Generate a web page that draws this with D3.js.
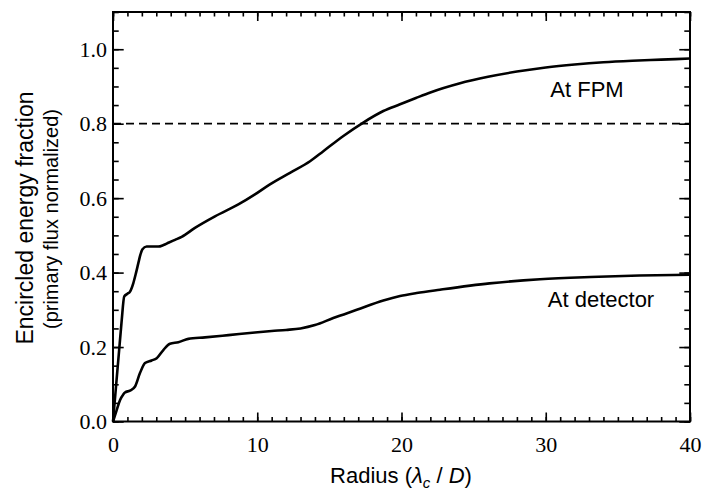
<!DOCTYPE html>
<html>
<head>
<meta charset="utf-8">
<script src="https://cdn.jsdelivr.net/npm/d3@7"></script>
<style>
body { margin: 0; background: #fff; }
.tick text { font-family: "Liberation Serif", serif; font-size: 22px; fill: #000; }
.tick line { stroke: #000; stroke-width: 1.6; }
.lbl { font-family: "Liberation Sans", Arial, sans-serif; fill: #000; }
</style>
</head>
<body>
<svg width="704" height="494"></svg>
<script>
// radius in lambda_c / D
let fpmRadius = [0, 0.2, 0.4, 0.6, 0.78, 1.0, 1.18, 1.41, 1.6, 1.76, 1.9, 2.03, 2.33, 2.7, 3.14, 3.5, 3.84, 4.3, 4.76, 5.68, 7.07, 8.69, 9.84, 10.88, 12.27, 13.66, 14.58, 15.97, 17.35, 18.74, 19.9, 21, 22, 24, 26, 28, 30, 32, 34, 36, 38, 40];
let fpmEnergy = [0, 0.09, 0.18, 0.27, 0.336, 0.343, 0.349, 0.372, 0.40, 0.426, 0.448, 0.462, 0.47, 0.47, 0.47, 0.474, 0.48, 0.488, 0.496, 0.52, 0.551, 0.583, 0.61, 0.637, 0.668, 0.699, 0.726, 0.767, 0.803, 0.834, 0.852, 0.869, 0.884, 0.908, 0.926, 0.94, 0.951, 0.959, 0.965, 0.969, 0.972, 0.975];

let detRadius = [0, 0.25, 0.49, 0.7, 0.83, 1.18, 1.53, 1.87, 2.22, 2.68, 3.03, 3.49, 3.95, 4.53, 5.22, 6.38, 8, 9.84, 11, 12, 13, 14, 15.27, 16.9, 18.74, 19.9, 21.05, 22.67, 26.1, 29.6, 33.1, 36.5, 40];
let detEnergy = [0, 0.03, 0.058, 0.072, 0.078, 0.083, 0.094, 0.13, 0.157, 0.164, 0.17, 0.192, 0.209, 0.213, 0.222, 0.226, 0.232, 0.239, 0.243, 0.246, 0.25, 0.259, 0.278, 0.300, 0.325, 0.337, 0.345, 0.354, 0.371, 0.382, 0.388, 0.392, 0.394];

let xMajor = [0, 10, 20, 30, 40];
let yMajor = [0, 0.2, 0.4, 0.6, 0.8, 1.0];
let threshold = 0.8;

let svg = d3.select('svg');
let mLeft = 113, mRight = 690, mTop = 12, mBottom = 421.5;

let x = d3.scaleLinear().domain([0, 40]).range([mLeft, mRight]);
let y = d3.scaleLinear().domain([0, 1.1]).range([mBottom, mTop]);

let xMinor = d3.range(0, 41, 1);
let yMinor = d3.range(0, 1.1001, 0.05).map(d => +d.toFixed(2));

function drawAxis(axis, transform) {
	let g = svg.append('g').attr('transform', transform).call(axis);
	g.select('.domain').remove();
	return g;
}

// bottom
drawAxis(d3.axisBottom(x).tickValues(xMajor).tickSize(-9).tickPadding(15).tickFormat(d3.format('d')), `translate(0,${mBottom})`);
drawAxis(d3.axisBottom(x).tickValues(xMinor).tickSize(-4.5).tickFormat(''), `translate(0,${mBottom})`);
// top
drawAxis(d3.axisTop(x).tickValues(xMajor).tickSize(-9).tickFormat(''), `translate(0,${mTop})`);
drawAxis(d3.axisTop(x).tickValues(xMinor).tickSize(-4.5).tickFormat(''), `translate(0,${mTop})`);
// left
drawAxis(d3.axisLeft(y).tickValues(yMajor).tickSize(-10.7).tickPadding(6).tickFormat(d3.format('.1f')), `translate(${mLeft},0)`);
drawAxis(d3.axisLeft(y).tickValues(yMinor).tickSize(-5.7).tickFormat(''), `translate(${mLeft},0)`);
// right
drawAxis(d3.axisRight(y).tickValues(yMajor).tickSize(-10.7).tickFormat(''), `translate(${mRight},0)`);
drawAxis(d3.axisRight(y).tickValues(yMinor).tickSize(-5.7).tickFormat(''), `translate(${mRight},0)`);

// frame
svg.append('rect')
	.attr('x', mLeft).attr('y', mTop)
	.attr('width', mRight - mLeft).attr('height', mBottom - mTop)
	.attr('fill', 'none').attr('stroke', '#000').attr('stroke-width', 2);

// 80% line
svg.append('line')
	.attr('x1', x(0)).attr('x2', x(40))
	.attr('y1', y(threshold)).attr('y2', y(threshold))
	.attr('stroke', '#000').attr('stroke-width', 1.8)
	.attr('stroke-dasharray', '8,5');

let line = d3.line().x(d => x(d[0])).y(d => y(d[1])).curve(d3.curveMonotoneX);

svg.append('path')
	.attr('d', line(d3.zip(fpmRadius, fpmEnergy)))
	.attr('fill', 'none').attr('stroke', '#000').attr('stroke-width', 2.6);

svg.append('path')
	.attr('d', line(d3.zip(detRadius, detEnergy)))
	.attr('fill', 'none').attr('stroke', '#000').attr('stroke-width', 2.6);

// curve labels
svg.append('text').attr('class', 'lbl')
	.attr('x', 587).attr('y', 97).attr('text-anchor', 'middle')
	.style('font-size', '22px').text('At FPM');
svg.append('text').attr('class', 'lbl')
	.attr('x', 601).attr('y', 307).attr('text-anchor', 'middle')
	.style('font-size', '22px').text('At detector');

// x axis title
let xt = svg.append('text').attr('class', 'lbl')
	.attr('x', 401).attr('y', 483).attr('text-anchor', 'middle')
	.style('font-size', '22px');
xt.append('tspan').text('Radius (');
xt.append('tspan').style('font-style', 'italic').text('λ');
xt.append('tspan').style('font-style', 'italic').style('font-size', '15px').attr('dy', 5).text('c');
xt.append('tspan').attr('dy', -5).text(' / ');
xt.append('tspan').style('font-style', 'italic').text('D');
xt.append('tspan').text(')');

// y axis title
svg.append('text').attr('class', 'lbl')
	.attr('transform', 'translate(33,218) rotate(-90)')
	.attr('text-anchor', 'middle')
	.style('font-size', '23px').text('Encircled energy fraction');
svg.append('text').attr('class', 'lbl')
	.attr('transform', 'translate(58,219) rotate(-90)')
	.attr('text-anchor', 'middle')
	.style('font-size', '20px').text('(primary flux normalized)');
</script>
</body>
</html>
